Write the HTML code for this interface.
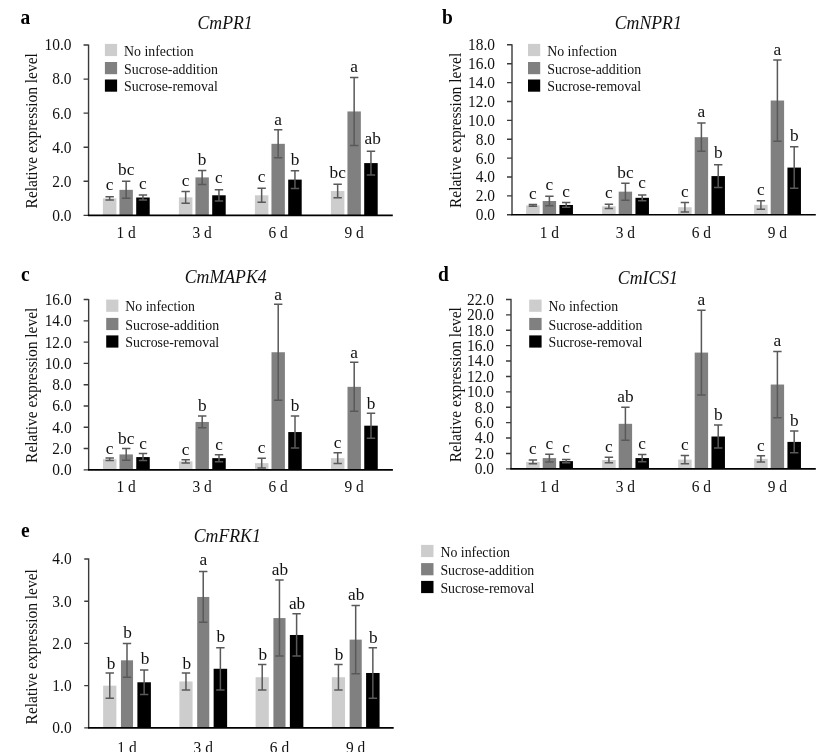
<!DOCTYPE html>
<html lang="en">
<head>
<meta charset="utf-8">
<title>Relative expression level of CmPR1, CmNPR1, CmMAPK4, CmICS1 and CmFRK1</title>
<style>
html,body{margin:0;padding:0;background:#fff;}
body{width:837px;height:752px;overflow:hidden;}
svg{display:block;filter:blur(0.45px);font-family:'Liberation Serif', 'Times New Roman', Times, serif;fill:#111;}
.pl{font-weight:bold;font-size:20.4px;fill:#000;}
.ti{font-style:italic;font-size:18.9px;text-anchor:middle;}
.yl{font-size:17.3px;text-anchor:middle;}
.yt text{font-size:16.5px;text-anchor:end;}
.xt text{font-size:16.5px;text-anchor:middle;}
.lt text{font-size:16.0px;text-anchor:middle;}
.lg text{font-size:13.6px;}
</style>
</head>
<body>
<svg width="837" height="752" viewBox="0 0 837 752">
<rect width="837" height="752" fill="#ffffff"/>
<g class="panel">
<text class="pl" transform="translate(20.6 23.7) scale(0.955 1)">a</text>
<text transform="translate(225.1 29) scale(0.94 1)" class="ti">CmPR1</text>
<text class="yl" transform="translate(36.6 130.8) rotate(-90) scale(0.893 1)">Relative expression level</text>
<g><rect x="102.9" y="198.36" width="13.5" height="17.04" fill="#cdcdcd"/><rect x="119.45" y="189.84" width="13.4" height="25.56" fill="#808080"/><rect x="136.2" y="197.51" width="13.5" height="17.89" fill="#000000"/><rect x="178.9" y="197.34" width="13.5" height="18.06" fill="#cdcdcd"/><rect x="195.45" y="177.4" width="13.4" height="38" fill="#808080"/><rect x="212.2" y="195.29" width="13.5" height="20.11" fill="#000000"/><rect x="254.9" y="195.29" width="13.5" height="20.11" fill="#cdcdcd"/><rect x="271.45" y="143.83" width="13.4" height="71.57" fill="#808080"/><rect x="288.2" y="179.62" width="13.5" height="35.78" fill="#000000"/><rect x="330.9" y="191.03" width="13.5" height="24.37" fill="#cdcdcd"/><rect x="347.45" y="111.46" width="13.4" height="103.94" fill="#808080"/><rect x="364.2" y="163.09" width="13.5" height="52.31" fill="#000000"/></g>
<path d="M109.65 196.66V200.06M105.45 196.66h8.4M105.45 200.06h8.4M126.15 181.32V198.36M121.95 181.32h8.4M121.95 198.36h8.4M142.95 194.95V200.06M138.75 194.95h8.4M138.75 200.06h8.4M185.65 191.54V203.13M181.45 191.54h8.4M181.45 203.13h8.4M202.15 170.41V184.39M197.95 170.41h8.4M197.95 184.39h8.4M218.95 189.67V200.92M214.75 189.67h8.4M214.75 200.92h8.4M261.65 188.31V202.28M257.45 188.31h8.4M257.45 202.28h8.4M278.15 129.86V157.8M273.95 129.86h8.4M273.95 157.8h8.4M294.95 170.76V188.48M290.75 170.76h8.4M290.75 188.48h8.4M337.65 184.22V197.85M333.45 184.22h8.4M333.45 197.85h8.4M354.15 77.38V145.54M349.95 77.38h8.4M349.95 145.54h8.4M370.95 151.16V175.02M366.75 151.16h8.4M366.75 175.02h8.4" fill="none" stroke="#595959" stroke-width="1.5"/>
<path d="M88.55 44.4V215.4M83.55 215.4H88.55M83.55 181.32H88.55M83.55 147.24H88.55M83.55 113.16H88.55M83.55 79.08H88.55M83.55 45H88.55" fill="none" stroke="#3a3a3a" stroke-width="1.4"/>
<path d="M87.9 215.4H392.8" fill="none" stroke="#000" stroke-width="1.6"/>
<g class="yt"><text transform="translate(71.55 220.8) scale(0.935 1)">0.0</text><text transform="translate(71.55 186.72) scale(0.935 1)">2.0</text><text transform="translate(71.55 152.64) scale(0.935 1)">4.0</text><text transform="translate(71.55 118.56) scale(0.935 1)">6.0</text><text transform="translate(71.55 84.48) scale(0.935 1)">8.0</text><text transform="translate(71.55 50.4) scale(0.935 1)">10.0</text></g>
<g class="xt"><text transform="translate(126.15 238) scale(0.935 1)">1 d</text><text transform="translate(202.15 238) scale(0.935 1)">3 d</text><text transform="translate(278.15 238) scale(0.935 1)">6 d</text><text transform="translate(354.15 238) scale(0.935 1)">9 d</text></g>
<g class="lt"><text transform="translate(109.65 190.36) scale(1.08 1)">c</text><text transform="translate(126.15 175.02) scale(1.08 1)">bc</text><text transform="translate(142.95 189.05) scale(1.08 1)">c</text><text transform="translate(185.65 185.74) scale(1.08 1)">c</text><text transform="translate(202.15 164.71) scale(1.08 1)">b</text><text transform="translate(218.95 183.37) scale(1.08 1)">c</text><text transform="translate(261.65 182.01) scale(1.08 1)">c</text><text transform="translate(278.15 124.96) scale(1.08 1)">a</text><text transform="translate(294.95 165.06) scale(1.08 1)">b</text><text transform="translate(337.65 177.92) scale(1.08 1)">bc</text><text transform="translate(354.15 72.28) scale(1.08 1)">a</text><text transform="translate(372.75 144.26) scale(1.08 1)">ab</text></g>
<g class="lg"><rect x="104.9" y="43.9" width="12.2" height="12.2" fill="#cdcdcd"/><text transform="translate(124 55.6) scale(1.02 1)">No infection</text><rect x="104.9" y="62" width="12.2" height="12.2" fill="#808080"/><text transform="translate(124 73.7) scale(1.02 1)">Sucrose-addition</text><rect x="104.9" y="79.5" width="12.2" height="12.2" fill="#000000"/><text transform="translate(124 91.2) scale(1.02 1)">Sucrose-removal</text></g>
</g>
<g class="panel">
<text class="pl" transform="translate(442.1 23.7) scale(0.955 1)">b</text>
<text transform="translate(648.3 28.8) scale(0.94 1)" class="ti">CmNPR1</text>
<text class="yl" transform="translate(460.7 130.4) rotate(-90) scale(0.893 1)">Relative expression level</text>
<g><rect x="526.15" y="205.36" width="13.5" height="9.44" fill="#cdcdcd"/><rect x="542.7" y="201.01" width="13.4" height="13.79" fill="#808080"/><rect x="559.45" y="204.98" width="13.5" height="9.82" fill="#000000"/><rect x="602.15" y="206.3" width="13.5" height="8.5" fill="#cdcdcd"/><rect x="618.7" y="191.66" width="13.4" height="23.14" fill="#808080"/><rect x="635.45" y="197.8" width="13.5" height="17" fill="#000000"/><rect x="678.15" y="207.24" width="13.5" height="7.56" fill="#cdcdcd"/><rect x="694.7" y="137.17" width="13.4" height="77.63" fill="#808080"/><rect x="711.45" y="176.08" width="13.5" height="38.72" fill="#000000"/><rect x="754.15" y="204.88" width="13.5" height="9.92" fill="#cdcdcd"/><rect x="770.7" y="100.52" width="13.4" height="114.28" fill="#808080"/><rect x="787.45" y="167.58" width="13.5" height="47.22" fill="#000000"/></g>
<path d="M532.9 204.41V206.3M528.7 204.41h8.4M528.7 206.3h8.4M549.4 196.29V205.73M545.2 196.29h8.4M545.2 205.73h8.4M566.2 202.62V207.34M562 202.62h8.4M562 207.34h8.4M608.9 204.13V208.47M604.7 204.13h8.4M604.7 208.47h8.4M625.4 183.16V200.16M621.2 183.16h8.4M621.2 200.16h8.4M642.2 194.97V200.63M638 194.97h8.4M638 200.63h8.4M684.9 202.52V211.97M680.7 202.52h8.4M680.7 211.97h8.4M701.4 123V151.33M697.2 123h8.4M697.2 151.33h8.4M718.2 164.74V187.41M714 164.74h8.4M714 187.41h8.4M760.9 200.63V209.13M756.7 200.63h8.4M756.7 209.13h8.4M777.4 59.91V141.13M773.2 59.91h8.4M773.2 141.13h8.4M794.2 146.8V188.36M790 146.8h8.4M790 188.36h8.4" fill="none" stroke="#595959" stroke-width="1.5"/>
<path d="M512 44.2V214.8M507 214.8H512M507 195.91H512M507 177.02H512M507 158.13H512M507 139.24H512M507 120.36H512M507 101.47H512M507 82.58H512M507 63.69H512M507 44.8H512" fill="none" stroke="#3a3a3a" stroke-width="1.4"/>
<path d="M511.35 214.8H815.8" fill="none" stroke="#000" stroke-width="1.6"/>
<g class="yt"><text transform="translate(495 220.2) scale(0.935 1)">0.0</text><text transform="translate(495 201.31) scale(0.935 1)">2.0</text><text transform="translate(495 182.42) scale(0.935 1)">4.0</text><text transform="translate(495 163.53) scale(0.935 1)">6.0</text><text transform="translate(495 144.64) scale(0.935 1)">8.0</text><text transform="translate(495 125.76) scale(0.935 1)">10.0</text><text transform="translate(495 106.87) scale(0.935 1)">12.0</text><text transform="translate(495 87.98) scale(0.935 1)">14.0</text><text transform="translate(495 69.09) scale(0.935 1)">16.0</text><text transform="translate(495 50.2) scale(0.935 1)">18.0</text></g>
<g class="xt"><text transform="translate(549.4 238) scale(0.935 1)">1 d</text><text transform="translate(625.4 238) scale(0.935 1)">3 d</text><text transform="translate(701.4 238) scale(0.935 1)">6 d</text><text transform="translate(777.4 238) scale(0.935 1)">9 d</text></g>
<g class="lt"><text transform="translate(532.9 198.51) scale(1.08 1)">c</text><text transform="translate(549.4 189.69) scale(1.08 1)">c</text><text transform="translate(566.2 196.72) scale(1.08 1)">c</text><text transform="translate(608.9 198.23) scale(1.08 1)">c</text><text transform="translate(625.4 178.36) scale(1.08 1)">bc</text><text transform="translate(642.2 187.97) scale(1.08 1)">c</text><text transform="translate(684.9 196.62) scale(1.08 1)">c</text><text transform="translate(701.4 117.1) scale(1.08 1)">a</text><text transform="translate(718.2 157.94) scale(1.08 1)">b</text><text transform="translate(760.9 194.73) scale(1.08 1)">c</text><text transform="translate(777.4 55.11) scale(1.08 1)">a</text><text transform="translate(794.2 140.9) scale(1.08 1)">b</text></g>
<g class="lg"><rect x="528" y="43.9" width="12.2" height="12.2" fill="#cdcdcd"/><text transform="translate(547.2 55.6) scale(1.02 1)">No infection</text><rect x="528" y="62" width="12.2" height="12.2" fill="#808080"/><text transform="translate(547.2 73.7) scale(1.02 1)">Sucrose-addition</text><rect x="528" y="79.5" width="12.2" height="12.2" fill="#000000"/><text transform="translate(547.2 91.2) scale(1.02 1)">Sucrose-removal</text></g>
</g>
<g class="panel">
<text class="pl" transform="translate(20.9 281) scale(0.955 1)">c</text>
<text transform="translate(225.7 283.3) scale(0.94 1)" class="ti">CmMAPK4</text>
<text class="yl" transform="translate(36.6 385.3) rotate(-90) scale(0.893 1)">Relative expression level</text>
<g><rect x="102.95" y="459.21" width="13.5" height="10.64" fill="#cdcdcd"/><rect x="119.5" y="454.42" width="13.4" height="15.43" fill="#808080"/><rect x="136.25" y="457.08" width="13.5" height="12.77" fill="#000000"/><rect x="178.95" y="461.34" width="13.5" height="8.51" fill="#cdcdcd"/><rect x="195.5" y="421.95" width="13.4" height="47.9" fill="#808080"/><rect x="212.25" y="458.14" width="13.5" height="11.71" fill="#000000"/><rect x="254.95" y="463.14" width="13.5" height="6.71" fill="#cdcdcd"/><rect x="271.5" y="352.24" width="13.4" height="117.61" fill="#808080"/><rect x="288.25" y="432.06" width="13.5" height="37.79" fill="#000000"/><rect x="330.95" y="458.14" width="13.5" height="11.71" fill="#cdcdcd"/><rect x="347.5" y="386.83" width="13.4" height="83.02" fill="#808080"/><rect x="364.25" y="425.68" width="13.5" height="44.17" fill="#000000"/></g>
<path d="M109.7 457.93V460.48M105.5 457.93h8.4M105.5 460.48h8.4M126.2 448.56V460.27M122 448.56h8.4M122 460.27h8.4M143 453.57V460.59M138.8 453.57h8.4M138.8 460.59h8.4M185.7 459.74V462.93M181.5 459.74h8.4M181.5 462.93h8.4M202.2 416.1V427.81M198 416.1h8.4M198 427.81h8.4M219 454.63V461.65M214.8 454.63h8.4M214.8 461.65h8.4M261.7 458.25V468.04M257.5 458.25h8.4M257.5 468.04h8.4M278.2 304.34V400.13M274 304.34h8.4M274 400.13h8.4M295 416.1V448.03M290.8 416.1h8.4M290.8 448.03h8.4M337.7 452.82V463.46M333.5 452.82h8.4M333.5 463.46h8.4M354.2 362.35V411.31M350 362.35h8.4M350 411.31h8.4M371 413.23V438.13M366.8 413.23h8.4M366.8 438.13h8.4" fill="none" stroke="#595959" stroke-width="1.5"/>
<path d="M88.65 298.95V469.85M83.65 469.85H88.65M83.65 448.56H88.65M83.65 427.28H88.65M83.65 405.99H88.65M83.65 384.7H88.65M83.65 363.41H88.65M83.65 342.12H88.65M83.65 320.84H88.65M83.65 299.55H88.65" fill="none" stroke="#3a3a3a" stroke-width="1.4"/>
<path d="M88 469.85H392.9" fill="none" stroke="#000" stroke-width="1.6"/>
<g class="yt"><text transform="translate(71.65 475.25) scale(0.935 1)">0.0</text><text transform="translate(71.65 453.96) scale(0.935 1)">2.0</text><text transform="translate(71.65 432.68) scale(0.935 1)">4.0</text><text transform="translate(71.65 411.39) scale(0.935 1)">6.0</text><text transform="translate(71.65 390.1) scale(0.935 1)">8.0</text><text transform="translate(71.65 368.81) scale(0.935 1)">10.0</text><text transform="translate(71.65 347.52) scale(0.935 1)">12.0</text><text transform="translate(71.65 326.24) scale(0.935 1)">14.0</text><text transform="translate(71.65 304.95) scale(0.935 1)">16.0</text></g>
<g class="xt"><text transform="translate(126.2 492.4) scale(0.935 1)">1 d</text><text transform="translate(202.2 492.4) scale(0.935 1)">3 d</text><text transform="translate(278.2 492.4) scale(0.935 1)">6 d</text><text transform="translate(354.2 492.4) scale(0.935 1)">9 d</text></g>
<g class="lt"><text transform="translate(109.7 453.63) scale(1.08 1)">c</text><text transform="translate(126.2 444.26) scale(1.08 1)">bc</text><text transform="translate(143 448.77) scale(1.08 1)">c</text><text transform="translate(185.7 454.94) scale(1.08 1)">c</text><text transform="translate(202.2 411.3) scale(1.08 1)">b</text><text transform="translate(219 449.83) scale(1.08 1)">c</text><text transform="translate(261.7 453.45) scale(1.08 1)">c</text><text transform="translate(278.2 299.54) scale(1.08 1)">a</text><text transform="translate(295 411.3) scale(1.08 1)">b</text><text transform="translate(337.7 448.02) scale(1.08 1)">c</text><text transform="translate(354.2 357.55) scale(1.08 1)">a</text><text transform="translate(371 409.13) scale(1.08 1)">b</text></g>
<g class="lg"><rect x="106.2" y="299.6" width="12.2" height="12.2" fill="#cdcdcd"/><text transform="translate(125.3 311.3) scale(1.02 1)">No infection</text><rect x="106.2" y="317.9" width="12.2" height="12.2" fill="#808080"/><text transform="translate(125.3 329.6) scale(1.02 1)">Sucrose-addition</text><rect x="106.2" y="335.4" width="12.2" height="12.2" fill="#000000"/><text transform="translate(125.3 347.1) scale(1.02 1)">Sucrose-removal</text></g>
</g>
<g class="panel">
<text class="pl" transform="translate(437.9 281.3) scale(0.955 1)">d</text>
<text transform="translate(647.9 283.5) scale(0.94 1)" class="ti">CmICS1</text>
<text class="yl" transform="translate(460.7 384.75) rotate(-90) scale(0.893 1)">Relative expression level</text>
<g><rect x="526.15" y="461.92" width="13.5" height="6.93" fill="#cdcdcd"/><rect x="542.7" y="458.07" width="13.4" height="10.78" fill="#808080"/><rect x="559.45" y="461.15" width="13.5" height="7.7" fill="#000000"/><rect x="602.15" y="460" width="13.5" height="8.86" fill="#cdcdcd"/><rect x="618.7" y="423.81" width="13.4" height="45.05" fill="#808080"/><rect x="635.45" y="458.07" width="13.5" height="10.78" fill="#000000"/><rect x="678.15" y="459.61" width="13.5" height="9.24" fill="#cdcdcd"/><rect x="694.7" y="352.58" width="13.4" height="116.27" fill="#808080"/><rect x="711.45" y="436.51" width="13.5" height="32.34" fill="#000000"/><rect x="754.15" y="458.84" width="13.5" height="10.01" fill="#cdcdcd"/><rect x="770.7" y="384.54" width="13.4" height="84.31" fill="#808080"/><rect x="787.45" y="441.9" width="13.5" height="26.95" fill="#000000"/></g>
<path d="M532.9 460V463.85M528.7 460h8.4M528.7 463.85h8.4M549.4 454.22V461.92M545.2 454.22h8.4M545.2 461.92h8.4M566.2 459.61V462.69M562 459.61h8.4M562 462.69h8.4M608.9 457.22V462.77M604.7 457.22h8.4M604.7 462.77h8.4M625.4 407.25V440.36M621.2 407.25h8.4M621.2 440.36h8.4M642.2 454.45V461.69M638 454.45h8.4M638 461.69h8.4M684.9 455.38V463.85M680.7 455.38h8.4M680.7 463.85h8.4M701.4 310.23V394.93M697.2 310.23h8.4M697.2 394.93h8.4M718.2 424.96V448.06M714 424.96h8.4M714 448.06h8.4M760.9 455.76V461.92M756.7 455.76h8.4M756.7 461.92h8.4M777.4 351.43V417.65M773.2 351.43h8.4M773.2 417.65h8.4M794.2 431.12V452.68M790 431.12h8.4M790 452.68h8.4" fill="none" stroke="#595959" stroke-width="1.5"/>
<path d="M511 298.85V468.85M506 468.85H511M506 453.45H511M506 438.05H511M506 422.65H511M506 407.25H511M506 391.85H511M506 376.45H511M506 361.05H511M506 345.65H511M506 330.25H511M506 314.85H511M506 299.45H511" fill="none" stroke="#3a3a3a" stroke-width="1.4"/>
<path d="M510.35 468.85H815.8" fill="none" stroke="#000" stroke-width="1.6"/>
<g class="yt"><text transform="translate(494 474.25) scale(0.935 1)">0.0</text><text transform="translate(494 458.85) scale(0.935 1)">2.0</text><text transform="translate(494 443.45) scale(0.935 1)">4.0</text><text transform="translate(494 428.05) scale(0.935 1)">6.0</text><text transform="translate(494 412.65) scale(0.935 1)">8.0</text><text transform="translate(494 397.25) scale(0.935 1)">10.0</text><text transform="translate(494 381.85) scale(0.935 1)">12.0</text><text transform="translate(494 366.45) scale(0.935 1)">14.0</text><text transform="translate(494 351.05) scale(0.935 1)">16.0</text><text transform="translate(494 335.65) scale(0.935 1)">18.0</text><text transform="translate(494 320.25) scale(0.935 1)">20.0</text><text transform="translate(494 304.85) scale(0.935 1)">22.0</text></g>
<g class="xt"><text transform="translate(549.4 492.4) scale(0.935 1)">1 d</text><text transform="translate(625.4 492.4) scale(0.935 1)">3 d</text><text transform="translate(701.4 492.4) scale(0.935 1)">6 d</text><text transform="translate(777.4 492.4) scale(0.935 1)">9 d</text></g>
<g class="lt"><text transform="translate(532.9 453.9) scale(1.08 1)">c</text><text transform="translate(549.4 449.02) scale(1.08 1)">c</text><text transform="translate(566.2 453.21) scale(1.08 1)">c</text><text transform="translate(608.9 452.02) scale(1.08 1)">c</text><text transform="translate(625.4 402.05) scale(1.08 1)">ab</text><text transform="translate(642.2 449.25) scale(1.08 1)">c</text><text transform="translate(684.9 450.18) scale(1.08 1)">c</text><text transform="translate(701.4 305.03) scale(1.08 1)">a</text><text transform="translate(718.2 419.76) scale(1.08 1)">b</text><text transform="translate(760.9 450.56) scale(1.08 1)">c</text><text transform="translate(777.4 346.23) scale(1.08 1)">a</text><text transform="translate(794.2 425.92) scale(1.08 1)">b</text></g>
<g class="lg"><rect x="529.2" y="299.6" width="12.4" height="12.2" fill="#cdcdcd"/><text transform="translate(548.5 311.3) scale(1.02 1)">No infection</text><rect x="529.2" y="317.9" width="12.4" height="12.2" fill="#808080"/><text transform="translate(548.5 329.6) scale(1.02 1)">Sucrose-addition</text><rect x="529.2" y="335.4" width="12.4" height="12.2" fill="#000000"/><text transform="translate(548.5 347.1) scale(1.02 1)">Sucrose-removal</text></g>
</g>
<g class="panel">
<text class="pl" transform="translate(21 536.8) scale(0.955 1)">e</text>
<text transform="translate(227.3 541.6) scale(0.94 1)" class="ti">CmFRK1</text>
<text class="yl" transform="translate(36.6 646.82) rotate(-90) scale(0.893 1)">Relative expression level</text>
<g><rect x="103.15" y="685.66" width="13.2" height="42.24" fill="#cdcdcd"/><rect x="120.95" y="660.32" width="12.1" height="67.58" fill="#808080"/><rect x="137.4" y="682.28" width="13.5" height="45.62" fill="#000000"/><rect x="179.38" y="681.44" width="13.2" height="46.46" fill="#cdcdcd"/><rect x="197.18" y="596.96" width="12.1" height="130.94" fill="#808080"/><rect x="213.63" y="668.77" width="13.5" height="59.13" fill="#000000"/><rect x="255.61" y="677.22" width="13.2" height="50.68" fill="#cdcdcd"/><rect x="273.41" y="618.08" width="12.1" height="109.82" fill="#808080"/><rect x="289.86" y="634.98" width="13.5" height="92.92" fill="#000000"/><rect x="331.84" y="677.22" width="13.2" height="50.68" fill="#cdcdcd"/><rect x="349.64" y="639.62" width="12.1" height="88.28" fill="#808080"/><rect x="366.09" y="672.99" width="13.5" height="54.91" fill="#000000"/></g>
<path d="M109.75 672.99V698.33M105.55 672.99h8.4M105.55 698.33h8.4M127 643.42V677.22M122.8 643.42h8.4M122.8 677.22h8.4M144.15 670.03V694.53M139.95 670.03h8.4M139.95 694.53h8.4M185.98 672.99V689.89M181.78 672.99h8.4M181.78 689.89h8.4M203.23 571.62V622.31M199.03 571.62h8.4M199.03 622.31h8.4M220.38 647.65V689.89M216.18 647.65h8.4M216.18 689.89h8.4M262.21 664.54V689.89M258.01 664.54h8.4M258.01 689.89h8.4M279.46 580.07V656.1M275.26 580.07h8.4M275.26 656.1h8.4M296.61 613.86V656.1M292.41 613.86h8.4M292.41 656.1h8.4M338.44 664.54V689.89M334.24 664.54h8.4M334.24 689.89h8.4M355.69 605.41V673.84M351.49 605.41h8.4M351.49 673.84h8.4M372.84 647.65V698.33M368.64 647.65h8.4M368.64 698.33h8.4" fill="none" stroke="#595959" stroke-width="1.5"/>
<path d="M88.65 558.35V727.9M84.25 727.9H88.65M84.25 685.66H88.65M84.25 643.42H88.65M84.25 601.19H88.65M84.25 558.95H88.65" fill="none" stroke="#3a3a3a" stroke-width="1.4"/>
<path d="M88 727.9H393.7" fill="none" stroke="#000" stroke-width="1.6"/>
<g class="yt"><text transform="translate(71.65 733.3) scale(0.935 1)">0.0</text><text transform="translate(71.65 691.06) scale(0.935 1)">1.0</text><text transform="translate(71.65 648.82) scale(0.935 1)">2.0</text><text transform="translate(71.65 606.59) scale(0.935 1)">3.0</text><text transform="translate(71.65 564.35) scale(0.935 1)">4.0</text></g>
<g class="xt"><text transform="translate(127 753.2) scale(0.935 1)">1 d</text><text transform="translate(203.23 753.2) scale(0.935 1)">3 d</text><text transform="translate(279.46 753.2) scale(0.935 1)">6 d</text><text transform="translate(355.69 753.2) scale(0.935 1)">9 d</text></g>
<g class="lt"><text transform="translate(110.95 668.79) scale(1.08 1)">b</text><text transform="translate(127.6 637.62) scale(1.08 1)">b</text><text transform="translate(144.95 663.83) scale(1.08 1)">b</text><text transform="translate(186.78 669.19) scale(1.08 1)">b</text><text transform="translate(203.43 565.12) scale(1.08 1)">a</text><text transform="translate(220.88 641.85) scale(1.08 1)">b</text><text transform="translate(262.71 659.94) scale(1.08 1)">b</text><text transform="translate(279.96 575.07) scale(1.08 1)">ab</text><text transform="translate(297.11 608.86) scale(1.08 1)">ab</text><text transform="translate(338.94 659.94) scale(1.08 1)">b</text><text transform="translate(356.19 600.41) scale(1.08 1)">ab</text><text transform="translate(373.34 642.65) scale(1.08 1)">b</text></g>
<g class="lg"><rect x="421.1" y="544.9" width="12.4" height="12.2" fill="#cdcdcd"/><text transform="translate(440.4 556.8) scale(1.02 1)">No infection</text><rect x="421.1" y="563.1" width="12.4" height="12.2" fill="#808080"/><text transform="translate(440.4 575) scale(1.02 1)">Sucrose-addition</text><rect x="421.1" y="580.9" width="12.4" height="12.2" fill="#000000"/><text transform="translate(440.4 592.8) scale(1.02 1)">Sucrose-removal</text></g>
</g>
</svg>
</body>
</html>
